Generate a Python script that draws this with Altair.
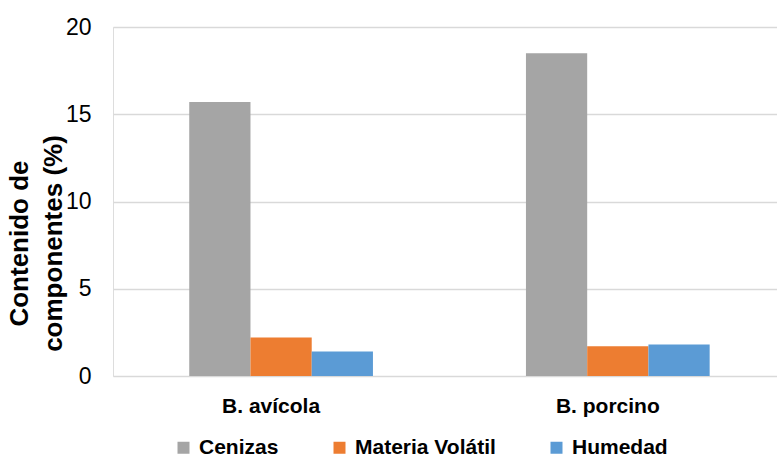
import altair as alt
import pandas as pd

# Biomass samples and measured components (% content)
categories = ["B. avícola", "B. porcino"]
components = ["Cenizas", "Materia Volátil", "Humedad"]
cenizas = [15.7, 18.5]
materia_volatil = [2.2, 1.7]
humedad = [1.4, 1.8]

colors = ["#a5a5a5", "#ed7d31", "#5b9bd5"]

rows = []
for i, cat in enumerate(categories):
    for comp, vals in zip(components, [cenizas, materia_volatil, humedad]):
        rows.append({"muestra": cat, "componente": comp, "valor": vals[i]})
df = pd.DataFrame(rows)

FONT = "Liberation Sans"

chart = (
    alt.Chart(df)
    .mark_bar()
    .encode(
        x=alt.X(
            "muestra:N",
            sort=categories,
            title=None,
            scale=alt.Scale(paddingInner=0.4544, paddingOuter=0.2132, align=0.531),
            axis=alt.Axis(
                labelAngle=0,
                labelFont=FONT,
                labelFontSize=21,
                labelFontWeight="bold",
                labelColor="#000000",
                labelPadding=36,
                labelBaseline="alphabetic",
                labelOffset=-10,
                ticks=False,
                domain=False,
                grid=False,
            ),
        ),
        xOffset=alt.XOffset("componente:N", sort=components, scale=alt.Scale(paddingInner=0, paddingOuter=0)),
        y=alt.Y(
            "valor:Q",
            scale=alt.Scale(domain=[0, 20], nice=False),
            title=["Contenido de", "componentes (%)"],
            axis=alt.Axis(
                values=[0, 5, 10, 15, 20],
                labelFont=FONT,
                labelFontSize=23,
                labelColor="#000000",
                labelPadding=22,
                ticks=False,
                domain=False,
                grid=True,
                gridColor="#d9d9d9",
                gridWidth=1.5,
                titleFont=FONT,
                titleFontSize=26,
                titleFontWeight="bold",
                titleColor="#000000",
                titleAngle=270,
                titleAlign="center",
                titleBaseline="alphabetic",
                titleLineHeight=34,
                titleX=-86,
                titleY=216,
            ),
        ),
        color=alt.Color(
            "componente:N",
            sort=components,
            scale=alt.Scale(domain=components, range=colors),
            legend=alt.Legend(
                title=None,
                orient="none",
                direction="horizontal",
                legendX=60,
                legendY=410,
                symbolType="square",
                symbolSize=144,
                symbolStrokeWidth=0,
                symbolOpacity=1,
                labelFont=FONT,
                labelFontSize=21,
                labelFontWeight="bold",
                labelColor="#000000",
                labelOffset=5,
                columnPadding=50,
                padding=0,
            ),
        ),
    )
    .properties(
        width=664,
        height=349,
        autosize=alt.AutoSizeParams(type="none"),
        padding={"left": 113, "top": 27, "right": 0, "bottom": 81},
    )
    .configure_view(stroke=None)
    .configure(background="#ffffff")
)

chart.save("out.html", embed_options={"renderer": "svg", "actions": False})
